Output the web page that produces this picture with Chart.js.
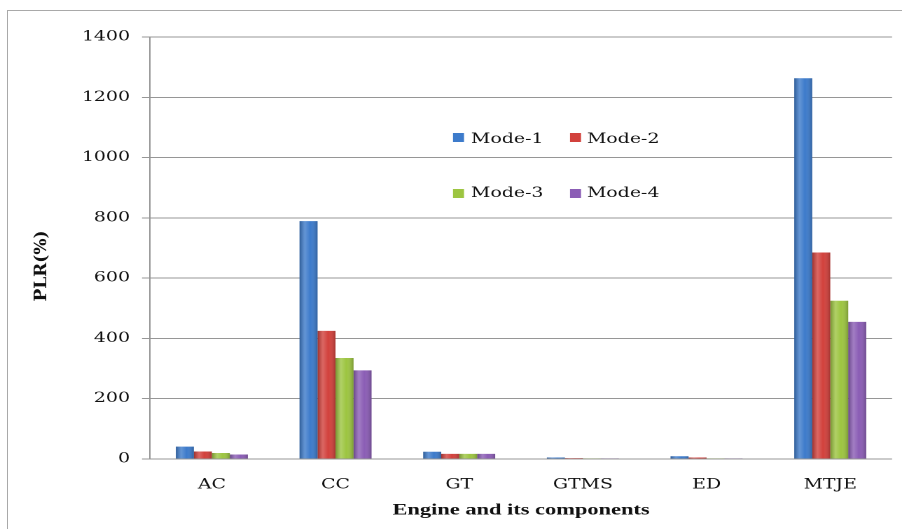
<!DOCTYPE html>
<html>
<head>
<meta charset="utf-8">
<script src="https://cdn.jsdelivr.net/npm/chart.js@4/dist/chart.umd.min.js"></script>
<style>
  html, body { margin: 0; padding: 0; background: #fff; }
  body { width: 902px; height: 529px; overflow: hidden; position: relative; }
  #frame { position: absolute; left: 7px; top: 10px; width: 1000px; height: 1000px;
           border-left: 1px solid #a9a9a9; border-top: 1px solid #a9a9a9; box-sizing: border-box; }
  #wrap { position: absolute; left: 0; top: 0; width: 644px; height: 529px;
          transform: scaleX(1.40062); transform-origin: 0 0; }
</style>
</head>
<body>
<div id="frame"></div>
<div id="wrap"><canvas id="chart" width="644" height="529"></canvas></div>
<script>
// Part-load ratio of the engine and its components for four operating modes
const categories = ['AC', 'CC', 'GT', 'GTMS', 'ED', 'MTJE'];
const seriesNames = ['Mode-1', 'Mode-2', 'Mode-3', 'Mode-4'];
const mode1 = [41, 789, 24, 5, 9, 1263];
const mode2 = [25, 425, 17, 3, 5, 685];
const mode3 = [20, 335, 17, 2, 2, 525];
const mode4 = [15, 294, 17, 2, 2, 455];
const yTicks = [0, 200, 400, 600, 800, 1000, 1200, 1400];

const colors = ['#3d7bcb', '#d2413c', '#9dc541', '#8b5db5'];
const stretch = 902 / 644;

Chart.defaults.font.family = "'DejaVu Serif', serif";
Chart.defaults.color = '#111';

// Cylinder-style shading laid over each bar
const barShade = {
  id: 'barShade',
  afterDatasetsDraw(chart) {
    const ctx = chart.ctx;
    chart.data.datasets.forEach((ds, i) => {
      const meta = chart.getDatasetMeta(i);
      meta.data.forEach(el => {
        const p = el.getProps(['x', 'y', 'base', 'width'], true);
        const l = p.x - p.width / 2, r = p.x + p.width / 2;
        const g = ctx.createLinearGradient(l, 0, r, 0);
        g.addColorStop(0, 'rgba(0,0,0,0.25)');
        g.addColorStop(0.3, 'rgba(255,255,255,0.2)');
        g.addColorStop(0.6, 'rgba(255,255,255,0)');
        g.addColorStop(1, 'rgba(0,0,0,0.22)');
        ctx.save();
        ctx.fillStyle = g;
        ctx.fillRect(l, Math.min(p.y, p.base), p.width, Math.abs(p.base - p.y));
        ctx.restore();
      });
    });
  }
};

// Two-row legend placed inside the plot, plus the rotated y-axis title
const insideLegend = {
  id: 'insideLegend',
  afterDraw(chart) {
    const ctx = chart.ctx;
    const cols = [[453, 471], [570, 587]];
    const rows = [[133, 143], [189, 197]];
    ctx.save();
    ctx.font = "13.5px 'DejaVu Serif'";
    ctx.textBaseline = 'alphabetic';
    ctx.textAlign = 'left';
    chart.data.datasets.forEach((ds, i) => {
      const c = cols[i % 2], r = rows[Math.floor(i / 2)];
      ctx.fillStyle = ds.backgroundColor;
      ctx.fillRect(c[0] / stretch, r[0], 11 / stretch, 9);
      ctx.fillStyle = '#111';
      ctx.fillText(ds.label, c[1] / stretch, r[1]);
    });
    ctx.translate(42 / stretch, 266);
    ctx.scale(1 / stretch, 1);
    ctx.rotate(-Math.PI / 2);
    ctx.font = "bold 17px 'DejaVu Serif'";
    ctx.textAlign = 'center';
    ctx.textBaseline = 'middle';
    ctx.fillText('PLR(%)', 0, 0);
    ctx.restore();
  }
};

const series = [mode1, mode2, mode3, mode4];
new Chart(document.getElementById('chart'), {
  type: 'bar',
  data: {
    labels: categories,
    datasets: series.map((vals, i) => ({
      label: seriesNames[i],
      data: vals,
      backgroundColor: colors[i],
      borderWidth: 0,
      categoryPercentage: 0.582,
      barPercentage: 1.0
    }))
  },
  options: {
    responsive: false,
    devicePixelRatio: 2,
    animation: false,
    layout: { padding: { top: 37, right: 7.1, bottom: 0, left: 0 } },
    plugins: { legend: { display: false }, tooltip: { enabled: false } },
    scales: {
      x: {
        grid: { display: false, drawTicks: false },
        border: { display: false },
        ticks: { padding: 18, font: { size: 13.5 }, maxRotation: 0 },
        title: {
          display: true,
          text: 'Engine and its components',
          font: { family: "'Liberation Serif', serif", size: 16, weight: 'bold' },
          padding: { top: 0, bottom: 9 },
          color: '#111'
        },
        afterFit(scale) { scale.height = 70; }
      },
      y: {
        min: 0,
        max: 1400,
        afterBuildTicks(scale) { scale.ticks = yTicks.map(v => ({ value: v })); },
        grid: { color: '#969696', lineWidth: 1, drawTicks: true, tickLength: 5.7, tickColor: '#969696' },
        border: { display: true, color: '#969696', width: 1 },
        ticks: { padding: 8.6, font: { size: 13.5 }, callback: v => String(v) },
        afterFit(scale) { scale.width = 150 / stretch; }
      }
    }
  },
  plugins: [barShade, insideLegend]
});
</script>
</body>
</html>
